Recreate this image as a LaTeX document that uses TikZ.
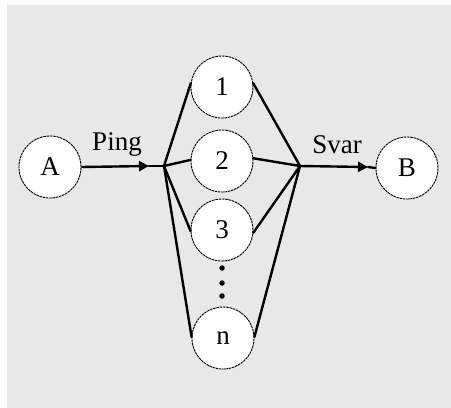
\documentclass[tikz,border=0pt]{standalone}
\usepackage{fontspec}
\setmainfont{Liberation Serif}
\usetikzlibrary{arrows.meta}
\definecolor{panel}{HTML}{E8E8E8}
\tikzset{
  station/.style={circle, draw=black, fill=white, line width=0.9pt,
    dash pattern=on 2.6pt off 0.7pt, minimum size=62pt, inner sep=0pt,
    font=\fontsize{27}{30}\selectfont},
  link/.style={line width=2.4pt, line cap=round},
  head/.style={line width=2.4pt, -{Triangle[length=10pt,width=10pt]}},
  lbl/.style={font=\fontsize{27}{30}\selectfont, inner sep=0pt},
  dot/.style={circle, fill=black, minimum size=5.5pt, inner sep=0pt}
}
\begin{document}
\begin{tikzpicture}[x=1pt,y=-1pt]
  \useasboundingbox (0,0) rectangle (451,408);
  \fill[white] (0,0) rectangle (451,408);
  \fill[panel] (7,5) rectangle (451,408);

  % end stations and the relay stations between them
  \node[station] (A) at (50,167) {A};
  \node[station] (B) at (407,168) {B};
  \node[station] (s1) at (222,87) {1};
  \node[station] (s2) at (222,161) {2};
  \node[station] (s3) at (222,230) {3};
  \node[station] (sn) at (223,338) {n};

  % ellipsis between 3 and n
  \node[dot] (d1) at (222,268) {};
  \node[dot] (d2) at (222,283) {};
  \node[dot] (d3) at (222,296) {};

  % fan-out and fan-in points
  \coordinate (hubL) at (164,166);
  \coordinate (hubR) at (300,166);
  \coordinate (tipL) at (149,166);
  \coordinate (tipR) at (368,167);

  % Ping: A to the fan-out point
  \draw[head] (A.east) -- (tipL);
  \draw[link] (tipL) -- (hubL);
  % Svar: fan-in point to B
  \draw[head] (hubR) -- (tipR);
  \draw[link] (tipR) -- (B.west);

  % fan-out to each relay
  \draw[link] (hubL) -- (s1.173);
  \draw[link] (hubL) -- (s2.178);
  \draw[link] (hubL) -- (s3.182);
  \draw[link] (hubL) -- (sn.178);
  % fan-in from each relay
  \draw[link] (s1.7) -- (hubR);
  \draw[link] (s2.5) -- (hubR);
  \draw[link] (s3.355) -- (hubR);
  \draw[link] (sn.2) -- (hubR);

  \node[lbl] (ping) at (117,144) {Ping};
  \node[lbl] (svar) at (337,145) {Svar};
\end{tikzpicture}
\end{document}
